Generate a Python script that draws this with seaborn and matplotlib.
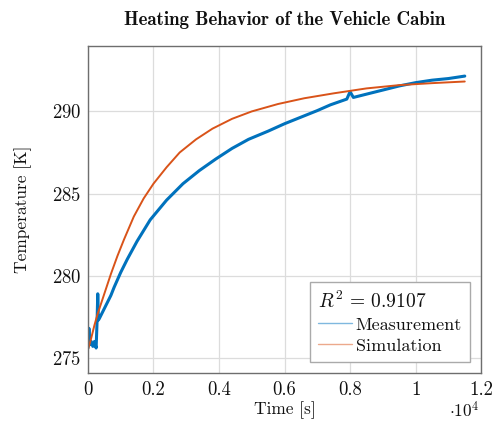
import matplotlib

matplotlib.use("Agg")

import matplotlib.pyplot as plt
from matplotlib.lines import Line2D
import pandas as pd
import seaborn as sns

# values (time in s, temperature in K)
meas_time = [0, 30, 60, 100, 150, 200, 250, 280, 300, 320, 350, 400, 500, 600, 700,
             800, 1000, 1200, 1500, 1900, 2400, 2900, 3400, 3900, 4400, 4900, 5500,
             6000, 6500, 7000, 7400, 7900, 8000, 8100, 8500, 9000, 9500, 10000,
             10500, 11000, 11500]
meas_temp = [275.6, 276.8, 275.8, 276.0, 275.7, 276.0, 275.6, 277.3, 278.9, 277.3,
             277.4, 277.6, 278.0, 278.4, 278.8, 279.3, 280.2, 281.0, 282.1, 283.4,
             284.6, 285.6, 286.4, 287.1, 287.75, 288.3, 288.8, 289.25, 289.65,
             290.05, 290.4, 290.75, 291.2, 290.85, 291.05, 291.3, 291.55, 291.75,
             291.9, 292.0, 292.15]

sim_time = [0, 100, 200, 300, 400, 500, 700, 900, 1100, 1400, 1700, 2000, 2400,
            2800, 3300, 3800, 4400, 5000, 5800, 6600, 7500, 8500, 9500, 10500, 11500]
sim_temp = [275.5, 276.2, 277.0, 277.7, 278.3, 278.9, 280.1, 281.2, 282.2, 283.6,
            284.7, 285.6, 286.6, 287.5, 288.3, 288.95, 289.55, 290.0, 290.45, 290.8,
            291.1, 291.4, 291.6, 291.72, 291.82]

x_ticks = [0, 2000, 4000, 6000, 8000, 10000, 12000]
x_tick_labels = ["0", "0.2", "0.4", "0.6", "0.8", "1", "1.2"]
y_ticks = [275, 280, 285, 290]

blue = "#0072BD"
orange = "#D95319"
text_color = "#111111"

sns.set_style("whitegrid", {"grid.color": "#dcdcdc", "axes.edgecolor": "#6e6e6e"})
plt.rcParams["font.family"] = ["cmr10", "DejaVu Serif"]
plt.rcParams["mathtext.fontset"] = "cm"
plt.rcParams["axes.formatter.use_mathtext"] = True

meas = pd.DataFrame({"time": meas_time, "temp": meas_temp})
sim = pd.DataFrame({"time": sim_time, "temp": sim_temp})

fig = plt.figure(figsize=(4.94, 4.23), dpi=100)
ax = fig.add_axes([0.178, 0.119, 0.796, 0.773])

sns.lineplot(data=meas, x="time", y="temp", color=blue, linewidth=2.2, ax=ax)
sns.lineplot(data=sim, x="time", y="temp", color=orange, linewidth=1.4, ax=ax)

ax.set_xlim(0, 12000)
ax.set_ylim(274.1, 294.0)
ax.set_xticks(x_ticks)
ax.set_xticklabels(x_tick_labels)
ax.set_yticks(y_ticks)
ax.tick_params(axis="both", length=0, labelsize=13.5, colors=text_color, pad=5)
ax.tick_params(axis="x", pad=6)
ax.grid(True, color="#dcdcdc", linewidth=0.9)
for spine in ax.spines.values():
    spine.set_linewidth(1.0)

ax.set_xlabel("Time [s]", fontsize=12.5, color=text_color, labelpad=2)
ax.set_ylabel("Temperature [K]", fontsize=12.5, color=text_color, labelpad=14)
ax.set_title("Heating Behavior of the Vehicle Cabin", fontsize=13.5,
             fontfamily=["cmb10", "DejaVu Serif"], color=text_color, pad=15)
ax.text(0.957, -0.115, r"$\cdot 10^4$", transform=ax.transAxes, ha="center",
        va="center", fontsize=12.5, color=text_color)

handles = [
    Line2D([], [], color="#7fb8df", linewidth=1.0),
    Line2D([], [], color="#eca98c", linewidth=1.0),
]
leg = ax.legend(handles, ["Measurement", "Simulation"], title=r"$R^2\,=\,0.9107$",
                alignment="left", loc="lower right", bbox_to_anchor=(0.972, 0.033),
                borderaxespad=0, fontsize=13, title_fontsize=14, fancybox=False,
                framealpha=1, edgecolor="#aaaaaa", handlelength=1.85,
                handletextpad=0.22, labelspacing=0.3, borderpad=0.45)
leg.get_frame().set_linewidth(1.0)
for txt in leg.get_texts():
    txt.set_color(text_color)
leg.get_title().set_color(text_color)

fig.savefig("out.png", dpi=100)
